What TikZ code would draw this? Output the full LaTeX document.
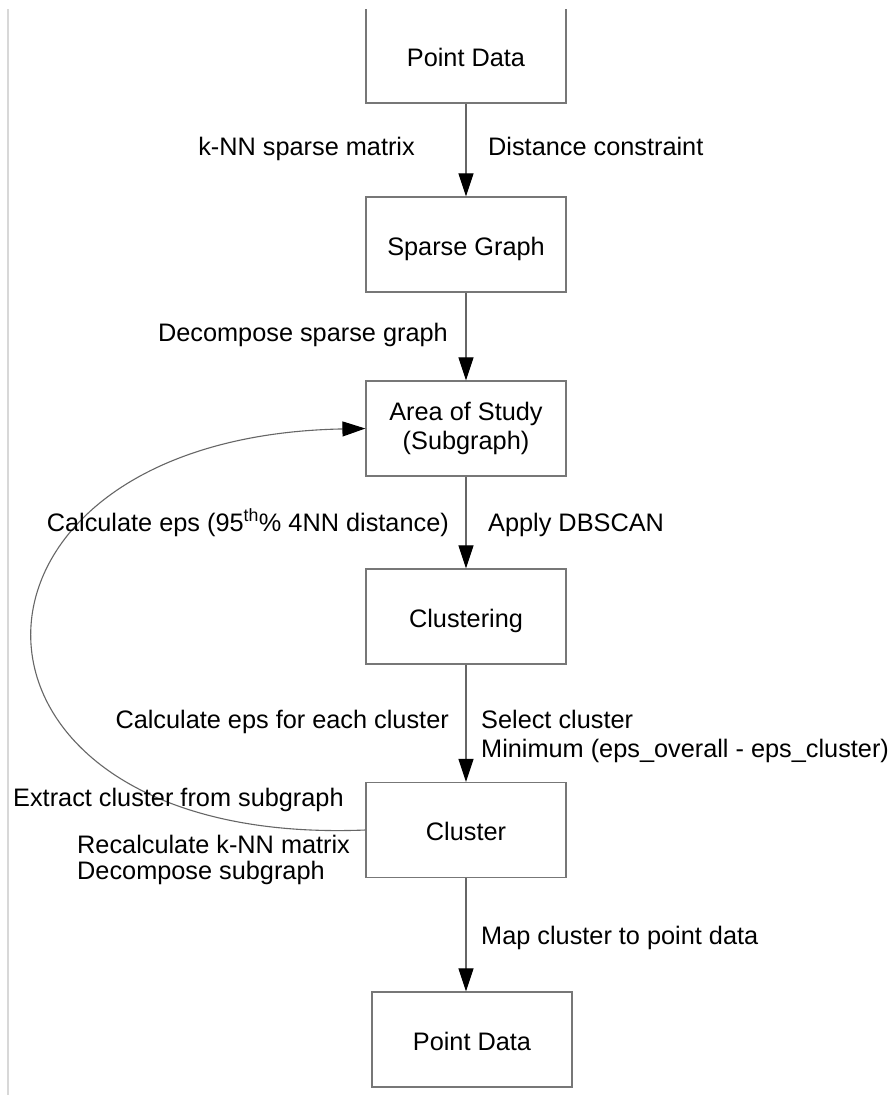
\documentclass[tikz,border=0pt]{standalone}
\usepackage{fontspec}
\setmainfont{Liberation Sans}
\usetikzlibrary{arrows.meta}
\definecolor{boxgray}{HTML}{777777}
\definecolor{linegray}{HTML}{666666}
\definecolor{edgegray}{HTML}{D8D8D8}
\begin{document}
\begin{tikzpicture}[x=1pt,y=-1pt,
  box/.style={draw=boxgray, line width=1.2pt, minimum width=200pt, minimum height=95pt, inner sep=0pt, align=center, font=\fontsize{25.3}{29.5}\selectfont},
  onebox/.style={box, text height=21pt, text depth=0pt},
  lbl/.style={inner sep=0pt, font=\fontsize{25.3}{30}\selectfont},
  flow/.style={draw=linegray, line width=1.1pt, -{Triangle[width=15pt,length=23pt,color=black,fill=black]}}]
\useasboundingbox (0,0) rectangle (888,1095);
\fill[white] (0,0) rectangle (888,1095);
\begin{scope}
\clip (0,9) rectangle (888,1095);
\draw[edgegray, line width=1.5pt] (8,9) -- (8,1095);
\node[onebox] (pd1) at (466,55.5) {Point Data};
\end{scope}
\node[onebox] (sg) at (466,244.5) {Sparse Graph};
\node[box] (aos) at (466,428.5) {Area of Study\\(Subgraph)};
\node[onebox] (cl) at (466,616.5) {Clustering};
\node[onebox] (c) at (466,830) {Cluster};
\node[onebox] (pd2) at (472,1039.5) {Point Data};
\draw[flow] (pd1.south) -- (sg.north);
\draw[flow] (sg.south) -- (aos.north);
\draw[flow] (aos.south) -- (cl.north);
\draw[flow] (cl.south) -- (c.north);
\draw[flow] (c.south) -- (c.south |- pd2.north);
\draw[flow] (c.west) .. controls (-76,848) and (-78,437) .. (aos.west);
\node[lbl, anchor=base east] (l1) at (415,155) {k-NN sparse matrix};
\node[lbl, anchor=base west] (l2) at (488,155) {Distance constraint};
\node[lbl, anchor=base east] (l3) at (448,341) {Decompose sparse graph};
\node[lbl, anchor=base east] (l4) at (449,531) {Calculate eps (95\textsuperscript{th}\% 4NN distance)};
\node[lbl, anchor=base west] (l5) at (488,531) {Apply DBSCAN};
\node[lbl, anchor=base east] (l6) at (449,728) {Calculate eps for each cluster};
\node[lbl, anchor=base west] (l7) at (481,728) {Select cluster};
\node[lbl, anchor=base west] (l8) at (481,757) {Minimum (eps\_overall - eps\_cluster)};
\node[lbl, anchor=base west] (l9) at (13,806) {Extract cluster from subgraph};
\node[lbl, anchor=base west] (l10) at (77,853) {Recalculate k-NN matrix};
\node[lbl, anchor=base west] (l11) at (77,879) {Decompose subgraph};
\node[lbl, anchor=base west] (l12) at (481,944) {Map cluster to point data};
\end{tikzpicture}
\end{document}
